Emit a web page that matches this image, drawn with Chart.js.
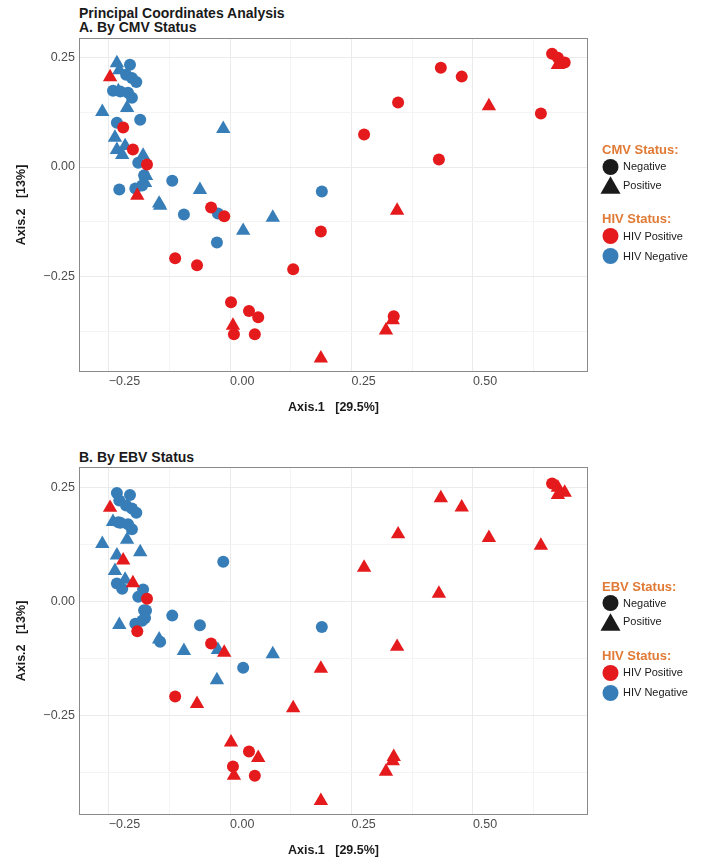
<!DOCTYPE html>
<html>
<head>
<meta charset="utf-8">
<script src="https://cdn.jsdelivr.net/npm/chart.js@4.4.1/dist/chart.umd.min.js"></script>
<style>
  body { margin: 0; background: #fff; font-family: "Liberation Sans", Arial, Helvetica, sans-serif; }
  #page { position: relative; width: 704px; height: 865px; overflow: hidden; }
  canvas { position: absolute; left: 0; }
  .title { position: absolute; left: 79px; font-weight: bold; font-size: 14px; line-height: 14px; color: #1a1a1a; white-space: nowrap; }
  .legend { position: absolute; left: 600px; width: 104px; height: 130px; }
  .lg-head { position: absolute; left: 2px; font-size: 13px; line-height: 15px; font-weight: bold; color: #e07a35; white-space: nowrap; }
  .lg-row { position: absolute; left: 0; height: 20px; display: flex; align-items: center; font-size: 11px; line-height: 13px; color: #1a1a1a; white-space: nowrap; }
  .lg-row svg { width: 21px; height: 20px; margin-right: 2px; flex: none; }
</style>
</head>
<body>
<div id="page">
  <div class="title" style="top:6px">Principal Coordinates Analysis<br>A. By CMV Status</div>
  <canvas id="pcoaCmv" width="704" height="422" style="top:0"></canvas>
  <div class="legend" id="legendCmv" style="top:142px"></div>

  <div class="title" style="top:450px">B. By EBV Status</div>
  <canvas id="pcoaEbv" width="704" height="443" style="top:422px"></canvas>
  <div class="legend" id="legendEbv" style="top:578.5px"></div>
</div>
<script>
// PCoA sample coordinates, one entry per sample
const pcoX = [-0.233, -0.206, -0.228, -0.247, -0.214, -0.202, -0.193, -0.241, -0.230, -0.226,
  -0.210, -0.202, -0.212, -0.263, -0.233, -0.185, -0.220, -0.014, -0.237, -0.233,
  -0.216, -0.222, -0.200, -0.179, -0.189, -0.171, -0.173, -0.177, -0.119, -0.228,
  -0.195, -0.181, -0.175, -0.191, -0.062, 0.189, -0.146, -0.144, -0.039, -0.095,
  -0.025, -0.012, 0.088, 0.027, -0.027, 0.187, -0.113, -0.068, 0.130, 0.002,
  0.039, 0.058, 0.006, 0.008, 0.051, 0.187, 0.344, 0.337, 0.335, 0.321,
  0.663, 0.675, 0.689, 0.675, 0.434, 0.477, 0.346, 0.533, 0.640, 0.276, 0.430]
const pcoY = [0.237, 0.233, 0.221, 0.205, 0.210, 0.203, 0.194, 0.174, 0.173, 0.172,
  0.169, 0.158, 0.135, 0.126, 0.101, 0.108, 0.090, 0.087, 0.067, 0.039,
  0.048, 0.028, 0.040, 0.026, 0.010, 0.006, -0.020, -0.019, -0.031, -0.051,
  -0.049, -0.042, -0.036, -0.065, -0.052, -0.056, -0.083, -0.088, -0.092, -0.108,
  -0.106, -0.112, -0.115, -0.145, -0.172, -0.147, -0.208, -0.224, -0.233, -0.308,
  -0.328, -0.342, -0.361, -0.381, -0.381, -0.436, -0.099, -0.340, -0.349, -0.372,
  0.258, 0.249, 0.238, 0.233, 0.226, 0.206, 0.147, 0.139, 0.122, 0.074, 0.017]
// P = positive, N = negative
const hivStatus = ['N','N','N','P','N','N','N','N','N','N',
  'N','N','N','N','N','N','P','N','N','N',
  'N','N','P','N','N','P','N','N','N','N',
  'N','N','N','P','N','N','N','N','P','N',
  'N','P','N','N','N','P','P','P','P','P',
  'P','P','P','P','P','P','P','P','P','P',
  'P','P','P','P','P','P','P','P','P','P','P']
const cmvStatus = ['P','N','P','P','N','N','N','N','P','N',
  'N','N','P','P','N','N','N','P','P','P',
  'P','P','N','P','N','N','P','N','N','N',
  'N','N','P','P','P','N','P','P','N','N',
  'N','N','P','P','N','N','N','N','N','N',
  'N','N','P','N','N','P','P','N','P','P',
  'N','N','N','P','N','N','N','P','N','N','N']
const ebvStatus = ['N','N','N','P','N','N','N','P','N','N',
  'N','N','P','P','P','P','P','N','P','N',
  'P','N','P','N','N','N','N','N','N','P',
  'N','N','N','N','N','N','P','N','N','P',
  'P','P','P','N','P','P','N','P','P','P',
  'N','P','N','P','N','P','P','P','P','P',
  'N','P','P','P','P','P','P','P','P','P','P']

// Axis breaks and tick labels
const xBreaks = [-0.25, 0, 0.25, 0.5]
const xTickLabels = ['\u22120.25', '0.00', '0.25', '0.50']
const xMinorBreaks = [-0.125, 0.125, 0.375, 0.625]
const yBreaks = [-0.25, 0, 0.25]
const yTickLabels = ['\u22120.25', '0.00', '0.25']
const yMinorBreaks = [-0.375, -0.125, 0.125]

// Legend levels
const shapeLevels = ['Negative', 'Positive']
const hivLevels = ['HIV Positive', 'HIV Negative']
const hivCodes = ['P', 'N']
const hivColors = ['#e41a1c', '#377eb8']

Chart.defaults.font.family = '"Liberation Sans", Arial, Helvetica, sans-serif'

const near = (a, b) => Math.abs(a - b) < 1e-6
const labelFor = (v, breaks, labels) => {
    const k = breaks.findIndex(b => near(b, v))
    return k >= 0 ? labels[k] : ''
}

// draw the grey box round the panel
const panelBorder = {
    id: 'panelBorder',
    afterDatasetsDraw(chart) {
        const {ctx, chartArea: a} = chart
        ctx.save()
        ctx.strokeStyle = '#8a8a8a'
        ctx.lineWidth = 1
        ctx.strokeRect(a.left + 0.5, a.top + 0.5, a.width - 1, a.height - 1)
        ctx.restore()
    }
}

const makePanel = (canvasId, shapeStatus, padTop) => {
    // one dataset per HIV group; first dataset is drawn on top
    const datasets = hivCodes.map((code, g) => {
        const idx = pcoX.map((x, i) => i).filter(i => hivStatus[i] === code)
        return {
            label: hivLevels[g],
            data: idx.map(i => ({x: pcoX[i], y: pcoY[i], shape: shapeStatus[i]})),
            backgroundColor: hivColors[g],
            borderWidth: 0,
            pointStyle: ctx => ctx.raw && ctx.raw.shape === 'P' ? 'triangle' : 'circle',
            pointRadius: ctx => ctx.raw && ctx.raw.shape === 'P' ? 8.3 : 6
        }
    })

    return new Chart(document.getElementById(canvasId), {
        type: 'scatter',
        data: {datasets},
        plugins: [panelBorder],
        options: {
            animation: false,
            responsive: false,
            devicePixelRatio: 1,
            events: [],
            layout: {padding: {left: 0, right: 116, top: padTop, bottom: 0}},
            plugins: {legend: {display: false}, tooltip: {enabled: false}},
            scales: {
                x: {
                    type: 'linear',
                    min: -0.311,
                    max: 0.737,
                    afterBuildTicks: s => { s.ticks = [...xBreaks, ...xMinorBreaks].sort((a, b) => a - b).map(v => ({value: v})) },
                    afterFit: s => { s.height = 50 },
                    border: {display: false},
                    grid: {
                        drawTicks: false,
                        lineWidth: 1,
                        color: ctx => xBreaks.some(b => near(b, ctx.tick.value)) ? '#ebebeb' : '#f4f4f4'
                    },
                    ticks: {
                        align: 'start',
                        maxRotation: 0,
                        autoSkip: false,
                        padding: 2,
                        color: '#4d4d4d',
                        font: {size: 12.5},
                        callback: v => labelFor(v, xBreaks, xTickLabels)
                    },
                    title: {
                        display: true,
                        text: 'Axis.1   [29.5%]',
                        color: '#1a1a1a',
                        font: {size: 12.5, weight: 'bold'},
                        padding: {top: 0, bottom: 7}
                    }
                },
                y: {
                    type: 'linear',
                    min: -0.467,
                    max: 0.294,
                    afterBuildTicks: s => { s.ticks = [...yBreaks, ...yMinorBreaks].sort((a, b) => a - b).map(v => ({value: v})) },
                    afterFit: s => { s.width = 79 },
                    border: {display: false},
                    grid: {
                        drawTicks: false,
                        lineWidth: 1,
                        color: ctx => yBreaks.some(b => near(b, ctx.tick.value)) ? '#ebebeb' : '#f4f4f4'
                    },
                    ticks: {
                        autoSkip: false,
                        padding: 4,
                        color: '#4d4d4d',
                        font: {size: 12.5},
                        callback: v => labelFor(v, yBreaks, yTickLabels)
                    },
                    title: {
                        display: true,
                        text: 'Axis.2   [13%]',
                        color: '#1a1a1a',
                        font: {size: 12.5, weight: 'bold'},
                        padding: {top: 14.5, bottom: 0}
                    }
                }
            }
        }
    })
}

const circleSvg = col => `<svg viewBox="0 0 21 20"><circle cx="10.5" cy="10" r="8" fill="${col}"/></svg>`
const triangleSvg = col => `<svg viewBox="0 0 21 20"><polygon points="10.5,1.35 0.5,18.65 20.5,18.65" fill="${col}"/></svg>`

const buildLegend = (elId, virus) => {
    const el = document.getElementById(elId)
    let html = `<div class="lg-head" style="top:0">${virus} Status:</div>`
    html += `<div class="lg-row" style="top:14.5px">${circleSvg('#1a1a1a')}${shapeLevels[0]}</div>`
    html += `<div class="lg-row" style="top:33px">${triangleSvg('#1a1a1a')}${shapeLevels[1]}</div>`
    html += `<div class="lg-head" style="top:69px">HIV Status:</div>`
    html += `<div class="lg-row" style="top:84px">${circleSvg(hivColors[0])}${hivLevels[0]}</div>`
    html += `<div class="lg-row" style="top:104px">${circleSvg(hivColors[1])}${hivLevels[1]}</div>`
    el.innerHTML = html
}

makePanel('pcoaCmv', cmvStatus, 38)
makePanel('pcoaEbv', ebvStatus, 45)
buildLegend('legendCmv', 'CMV')
buildLegend('legendEbv', 'EBV')
</script>
</body>
</html>
